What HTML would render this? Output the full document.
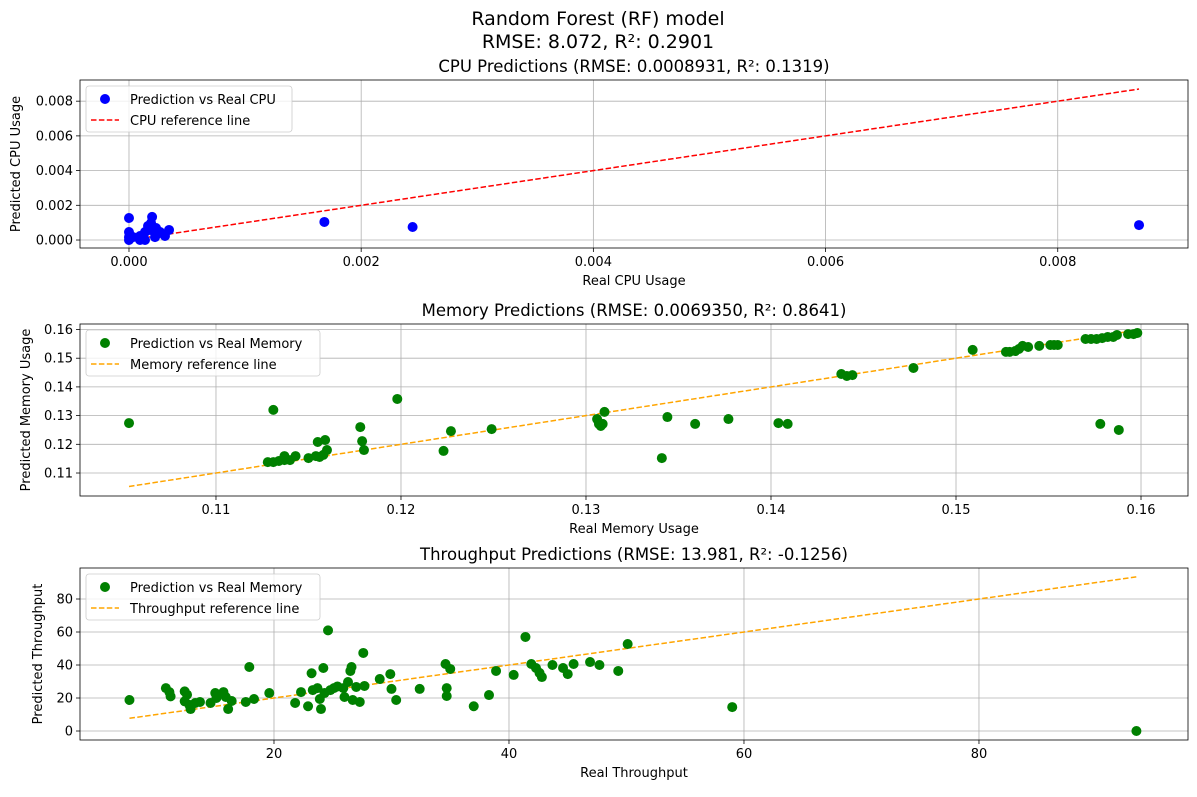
<!DOCTYPE html>
<html><head><meta charset="utf-8"><style>
body{margin:0;background:#fff}
svg{font-family:"DejaVu Sans","Liberation Sans",sans-serif}
</style></head><body>
<svg id="fig" width="1197" height="792" viewBox="0 0 1197 792" xmlns="http://www.w3.org/2000/svg">
<rect width="1197" height="792" fill="#fff"/>
<text x="598" y="25" font-size="19" text-anchor="middle">Random Forest (RF) model</text>
<text x="598" y="48" font-size="19" text-anchor="middle">RMSE: 8.072, R²: 0.2901</text>
</svg>
<script>
const cpuX=[0,0,0,0,3.5e-5,9.5e-5,1.38e-4,1.81e-4,1.64e-4,2.07e-4,1.9e-4,1.99e-4,2.33e-4,2.42e-4,2.68e-4,2.24e-4,9.5e-5,1.38e-4,3.1e-4,3.45e-4,1.683e-3,2.443e-3,8.7e-3];
const cpuY=[0,4.6e-4,1.27e-3,1.7e-4,1.7e-4,2.3e-4,4.6e-4,5.8e-4,8.1e-4,6.9e-4,9.8e-4,1.33e-3,6.9e-4,3.5e-4,4.6e-4,1.7e-4,0,0,2.3e-4,5.8e-4,1.04e-3,7.5e-4,8.6e-4];
const memX=[0.1053,0.1128,0.1131,0.1131,0.1134,0.1137,0.1137,0.1140,0.1143,0.1150,0.1154,0.1155,0.1159,0.1156,0.1158,0.1160,0.1178,0.1179,0.1180,0.1198,0.1223,0.1227,0.1249,0.1306,0.1307,0.1308,0.1309,0.1310,0.1341,0.1344,0.1359,0.1377,0.1404,0.1409,0.1438,0.1441,0.1444,0.1477,0.1509,0.1527,0.1529,0.1532,0.1534,0.1536,0.1539,0.1545,0.1551,0.1553,0.1555,0.1570,0.1573,0.1576,0.1579,0.1582,0.1585,0.1587,0.1593,0.1596,0.1598,0.1578,0.1588];
const memY=[0.1274,0.1138,0.1320,0.1138,0.1142,0.1159,0.1145,0.1145,0.1159,0.1152,0.1159,0.1208,0.1215,0.1156,0.1163,0.1180,0.1260,0.1211,0.1180,0.1358,0.1177,0.1246,0.1253,0.1288,0.1271,0.1264,0.1271,0.1313,0.1152,0.1295,0.1271,0.1288,0.1274,0.1271,0.1445,0.1438,0.1441,0.1466,0.1529,0.1522,0.1522,0.1525,0.1532,0.1543,0.1539,0.1543,0.1546,0.1546,0.1546,0.1567,0.1567,0.1567,0.1570,0.1574,0.1574,0.1581,0.1584,0.1584,0.1588,0.1271,0.1250];
const thrX=[7.7,10.8,11.1,11.2,12.4,12.6,12.4,12.8,12.9,13.3,13.7,14.6,15,15.1,15.7,15.9,16.1,16.4,17.6,17.9,18.3,19.6,21.8,22.3,22.9,23.2,23.3,23.7,23.9,24,24.2,24.6,24.3,24.8,25.1,25.4,25.9,26,26.3,26.5,26.6,26.7,27,27.3,27.6,27.7,29,29.9,30,30.4,32.4,34.6,34.7,34.7,35,37,38.3,38.9,40.4,41.4,41.9,42.3,42.6,42.8,43.7,44.6,45,45.5,46.9,47.7,49.3,50.1,59,93.4];
const thrY=[18.8,26,23.6,21,24,22,18,15.8,13.3,17,17.6,17,23,20,23.6,20.6,13.3,18.2,17.6,38.8,19.4,23,17,23.6,15,35,24.8,26,19.4,13.3,38.2,61,23,24.8,26,27,26,20.6,29.7,36.4,38.8,18.8,26.7,17.6,47.3,27.3,31.5,34.5,25.5,18.8,25.5,40.6,26,21.2,37.6,15,21.8,36.4,34,57,40.6,38.2,35.2,32.7,40,38.2,34.5,40.6,41.8,40,36.4,52.7,14.5,0];
const cpuXTicks=[0,0.002,0.004,0.006,0.008], cpuYTicks=[0,0.002,0.004,0.006,0.008];
const memXTicks=[0.11,0.12,0.13,0.14,0.15,0.16], memYTicks=[0.11,0.12,0.13,0.14,0.15,0.16];
const thrXTicks=[20,40,60,80], thrYTicks=[0,20,40,60,80];

const svg=document.getElementById('fig');const NS='http://www.w3.org/2000/svg';
function mk(t,a,p){const e=document.createElementNS(NS,t);for(const k in a)e.setAttribute(k,a[k]);(p||svg).appendChild(e);return e;}
function panel(o){
  const g=mk('g',{});
  
  
  const sx=v=>o.L+(v-o.x0)/(o.x1-o.x0)*(o.R-o.L);
  const sy=v=>o.B-(v-o.y0)/(o.y1-o.y0)*(o.B-o.T);
  o.xt.forEach(v=>{const x=sx(v);
    mk('line',{x1:x,x2:x,y1:o.T,y2:o.B,stroke:'#b0b0b0','stroke-width':0.8},g);
    mk('line',{x1:x,x2:x,y1:o.B,y2:o.B+4,stroke:'#000','stroke-width':0.8},g);
    const t=mk('text',{x:x,y:o.B+18,'font-size':13,'text-anchor':'middle'},g);t.textContent=v.toFixed(o.xd);
    });
  o.yt.forEach(v=>{const y=sy(v);
    mk('line',{x1:o.L,x2:o.R,y1:y,y2:y,stroke:'#b0b0b0','stroke-width':0.8},g);
    mk('line',{x1:o.L-4,x2:o.L,y1:y,y2:y,stroke:'#000','stroke-width':0.8},g);
    const t=mk('text',{x:o.L-7,y:y+4.5,'font-size':13,'text-anchor':'end'},g);t.textContent=v.toFixed(o.yd);
    });
  const ln=mk('line',{x1:sx(o.r0),y1:sy(o.r0),x2:sx(o.r1),y2:sy(o.r1),stroke:o.lc,'stroke-width':1.5,'stroke-dasharray':'5.5,2.4'},g);
  
  o.X.forEach((v,i)=>{const c=mk('circle',{cx:sx(v),cy:sy(o.Y[i]),r:5,fill:o.pc},g);
    });
  mk('rect',{x:o.L,y:o.T,width:o.R-o.L,height:o.B-o.T,fill:'none',stroke:'#000','stroke-width':0.8},g);
  let t=mk('text',{x:(o.L+o.R)/2,y:o.T-8,'font-size':16.5,'text-anchor':'middle'},g);t.textContent=o.title;
  
  t=mk('text',{x:(o.L+o.R)/2,y:o.B+37,'font-size':13,'text-anchor':'middle'},g);t.textContent=o.xl;
  
  const cy=(o.T+o.B)/2;
  t=mk('text',{x:o.ylx,y:cy,'font-size':13,'text-anchor':'middle',transform:`rotate(-90 ${o.ylx} ${cy})`},g);t.textContent=o.yl;
  
  const lg=mk('g',{},g);
  mk('rect',{x:o.L+6,y:o.T+6,width:o.lw,height:46,rx:3,fill:'#fff','fill-opacity':0.8,stroke:'#ccc','stroke-width':0.8},lg);
  mk('circle',{cx:o.L+25,cy:o.T+19,r:5,fill:o.pc},lg);
  mk('line',{x1:o.L+11,x2:o.L+39,y1:o.T+40,y2:o.T+40,stroke:o.lc,'stroke-width':1.5,'stroke-dasharray':'5.5,2.4'},lg);
  t=mk('text',{x:o.L+50,y:o.T+24,'font-size':13},lg);t.textContent=o.l1;
  t=mk('text',{x:o.L+50,y:o.T+45,'font-size':13},lg);t.textContent=o.l2;
}
panel({name:'cpu',L:80,R:1188,T:80,B:248,x0:-0.000422,x1:0.009122,y0:-0.00046,y1:0.00922,xt:cpuXTicks,yt:cpuYTicks,xd:3,yd:3,
 X:cpuX,Y:cpuY,r0:0,r1:0.0087,pc:'#0000ff',lc:'#ff0000',title:'CPU Predictions (RMSE: 0.0008931, R²: 0.1319)',xl:'Real CPU Usage',yl:'Predicted CPU Usage',ylx:20,
 l1:'Prediction vs Real CPU',l2:'CPU reference line',lw:206});
panel({name:'memory',L:80,R:1188,T:324,B:496,x0:0.10265,x1:0.16254,y0:0.10199,y1:0.16192,xt:memXTicks,yt:memYTicks,xd:2,yd:2,
 X:memX,Y:memY,r0:0.1053,r1:0.1598,pc:'#008000',lc:'#ffa500',title:'Memory Predictions (RMSE: 0.0069350, R²: 0.8641)',xl:'Real Memory Usage',yl:'Predicted Memory Usage',ylx:30,
 l1:'Prediction vs Real Memory',l2:'Memory reference line',lw:234});
panel({name:'throughput',L:80,R:1188,T:568,B:740,x0:3.49,x1:97.79,y0:-5.45,y1:98.79,xt:thrXTicks,yt:thrYTicks,xd:0,yd:0,
 X:thrX,Y:thrY,r0:7.7,r1:93.4,pc:'#008000',lc:'#ffa500',title:'Throughput Predictions (RMSE: 13.981, R²: -0.1256)',xl:'Real Throughput',yl:'Predicted Throughput',ylx:42,
 l1:'Prediction vs Real Memory',l2:'Throughput reference line',lw:234});
</script>
</body></html>
